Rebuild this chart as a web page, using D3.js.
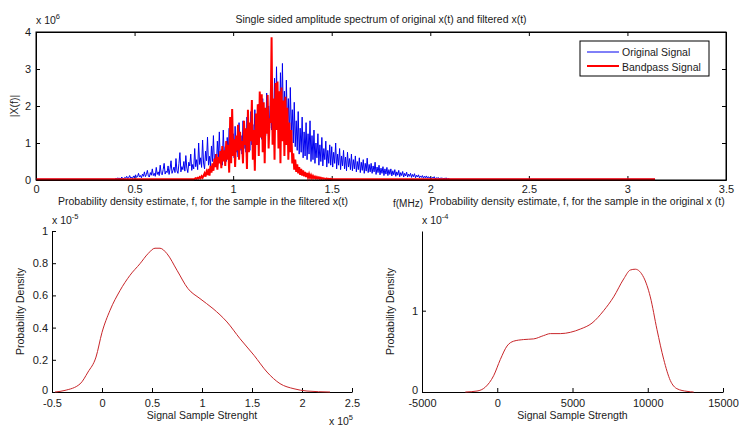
<!DOCTYPE html>
<html>
<head>
<meta charset="utf-8">
<script src="https://cdn.jsdelivr.net/npm/d3@7"></script>
<style>
  body { margin: 0; background: #fff; }
  svg { display: block; }
  text { font-family: "Liberation Sans", Arial, Helvetica, sans-serif; fill: #1a1a1a; }
  .axis path, .axis line { stroke: #000; stroke-width: 1; }
  .axis text { font-size: 11px; fill: #1a1a1a; }
</style>
</head>
<body>
<svg id="chart" width="739" height="427"></svg>
<script>
// ---------- Spectrum (|X(f)| in units of 1e6, f in MHz) ----------
const spectrumEnd = 3.14;          // last frequency bin
const baselineLevel = 0.02;        // floor of both spectra outside the band

// Original signal, one value every 0.005 MHz starting at 0.40 MHz
const originalStart = 0.40, originalStep = 0.005;
const originalValues = [
  0.02,0.04,0.03,0.06,0.02,0.05,0.03,0.08,0.04,0.03,0.07,0.05,0.10,0.04,0.06,0.12,0.05,0.08,0.04,0.11,
  0.06,0.14,0.07,0.09,0.18,0.08,0.12,0.06,0.16,0.10,0.22,0.09,0.15,0.26,0.11,0.08,0.20,0.13,0.30,0.12,
  0.18,0.10,0.34,0.15,0.22,0.12,0.40,0.18,0.14,0.28,0.45,0.16,0.24,0.20,0.38,0.15,0.30,0.52,0.18,0.26,
  0.35,0.20,0.58,0.25,0.18,0.44,0.74,0.22,0.36,0.28,0.50,0.24,0.66,0.32,0.20,0.48,0.38,0.70,0.26,0.42,
  0.30,0.85,0.36,0.55,0.28,1.00,0.42,0.60,0.34,1.08,0.46,0.30,0.78,0.52,1.16,0.40,0.64,0.36,0.92,0.50,
  1.20,0.44,0.70,0.38,1.05,0.58,1.30,0.48,0.82,0.40,1.35,0.62,0.90,0.50,1.15,0.70,1.40,0.55,0.95,0.65,
  1.25,0.60,1.45,0.75,1.00,0.62,1.55,0.80,1.20,0.70,1.60,0.85,1.30,0.75,1.70,0.90,1.40,0.80,1.85,0.95,
  1.50,0.90,1.90,1.05,1.60,1.00,2.05,1.15,1.75,1.10,2.20,1.25,1.85,1.20,2.35,1.30,2.00,1.40,2.55,1.35,
  2.10,1.50,2.75,1.40,3.06,1.60,2.30,1.30,2.90,1.70,3.15,1.50,2.40,1.20,2.70,1.45,2.20,1.10,2.50,1.30,
  1.90,1.00,2.10,0.90,1.60,0.80,1.85,0.70,1.40,0.75,1.70,0.60,1.30,0.65,1.55,0.55,1.25,0.70,1.60,0.50,
  1.20,0.55,1.35,0.45,1.00,0.60,1.25,0.40,0.95,0.50,1.15,0.38,0.85,0.55,1.05,0.35,0.80,0.45,0.95,0.40,
  0.90,0.35,0.75,0.45,1.00,0.30,0.70,0.40,0.85,0.28,0.65,0.38,0.80,0.30,0.62,0.25,0.75,0.35,0.58,0.28,
  0.70,0.25,0.55,0.30,0.65,0.22,0.50,0.28,0.60,0.20,0.48,0.26,0.55,0.18,0.45,0.24,0.59,0.20,0.42,0.22,
  0.45,0.18,0.38,0.22,0.48,0.15,0.35,0.20,0.40,0.14,0.32,0.18,0.36,0.12,0.30,0.16,0.34,0.12,0.28,0.15,
  0.30,0.11,0.25,0.14,0.28,0.10,0.22,0.13,0.26,0.09,0.20,0.12,0.23,0.08,0.18,0.11,0.21,0.08,0.16,0.10,
  0.18,0.07,0.15,0.09,0.17,0.06,0.13,0.08,0.14,0.06,0.11,0.07,0.12,0.05,0.10,0.06,0.11,0.05,0.09,0.05,
  0.08,0.04,0.07,0.05,0.09,0.03,0.06,0.04,0.07,0.03,0.05,0.04,0.06,0.03,0.05,0.03,0.06,0.02,0.04,0.03,
  0.02
];

// Bandpass signal, one value every 0.005 MHz starting at 0.80 MHz
const bandpassStart = 0.80, bandpassStep = 0.005;
const bandpassValues = [
  0.02,0.03,0.05,0.03,0.06,0.04,0.08,0.05,0.10,0.06,0.12,0.18,0.09,0.22,0.14,0.30,0.12,0.38,0.20,0.45,
  0.25,0.58,0.35,0.70,0.28,0.62,0.45,0.78,0.32,0.92,0.50,0.80,0.38,1.05,0.55,0.95,0.20,1.70,0.45,1.92,
  0.65,1.10,0.35,1.20,0.80,1.49,0.55,1.30,0.85,1.05,0.45,1.60,0.95,1.40,0.30,1.90,0.75,1.55,1.05,2.16,
  0.55,1.35,0.25,1.80,0.95,2.05,0.65,2.39,1.15,2.32,0.75,2.10,0.45,1.95,1.25,2.30,0.85,1.60,1.55,3.86,
  0.95,2.20,0.55,2.62,1.35,2.66,0.85,2.40,0.45,2.50,1.05,2.15,0.65,2.25,0.95,1.95,0.55,1.55,0.75,1.35,
  0.45,0.72,0.28,0.55,0.22,0.42,0.18,0.35,0.14,0.30,0.12,0.26,0.10,0.22,0.08,0.19,0.07,0.16,0.06,0.13,
  0.05,0.11,0.05,0.09,0.04,0.08,0.04,0.07,0.03,0.06,0.03,0.05,0.03,0.04,0.02,0.04,0.02,0.03,0.02,0.03,
  0.02
];

const spectrumXTicks = [0, 0.5, 1, 1.5, 2, 2.5, 3, 3.5];
const spectrumYTicks = [0, 1, 2, 3, 4];

// ---------- Density estimate of the filtered signal (x in 1e5, y in 1e-5) ----------
const filteredX = [-0.47,-0.37,-0.22,-0.14,-0.06,0,0.08,0.18,0.28,0.38,0.46,0.53,0.58,0.65,0.75,0.86,0.98,1.11,1.25,1.38,1.52,1.65,1.78,1.92,2.05,2.28];
const filteredY = [0,0.01,0.05,0.124,0.217,0.37,0.507,0.63,0.725,0.797,0.859,0.893,0.893,0.859,0.756,0.642,0.58,0.518,0.435,0.331,0.228,0.124,0.052,0.02,0.006,0];
const filteredXTicks = [-0.5, 0, 0.5, 1, 1.5, 2, 2.5];
const filteredYTicks = [0, 0.2, 0.4, 0.6, 0.8, 1];

// ---------- Density estimate of the original signal (y in 1e-4) ----------
const originalPdfX = [-2120,-1345,-790,-240,205,648,1090,1755,2420,3084,3527,4190,4856,5520,6295,7070,7735,8400,8842,9175,9728,10170,10615,11058,11500,11944,12608,13050];
const originalPdfY = [0,0.012,0.06,0.2,0.40,0.565,0.625,0.645,0.653,0.694,0.718,0.718,0.734,0.774,0.847,1.0,1.17,1.39,1.5,1.51,1.41,1.17,0.766,0.403,0.141,0.04,0.008,0];
const originalPdfXTicks = [-5000, 0, 5000, 10000, 15000];
const originalPdfYTicks = [0, 1];

const svg = d3.select("#chart");

// exponent label such as "x 10^6"
function exponentLabel(g, x, y, exp) {
  const t = g.append("text").attr("x", x).attr("y", y).style("font-size", "10.5px");
  t.append("tspan").text("x 10");
  t.append("tspan").attr("dy", -5).style("font-size", "7.5px").text(exp);
}

// ================= Top: amplitude spectrum =================
(function spectrum() {
  const L = 36, R = 726, T = 32, B = 180;
  const x = d3.scaleLinear().domain([0, 3.5]).range([L, R]);
  const y = d3.scaleLinear().domain([0, 4]).range([B, T]);
  const g = svg.append("g");

  const fmt = d => String(d);
  g.append("g").attr("class", "axis").attr("transform", `translate(0,${B})`)
    .call(d3.axisBottom(x).tickValues(spectrumXTicks).tickFormat(fmt).tickSizeInner(-4).tickSizeOuter(0).tickPadding(5));
  g.append("g").attr("class", "axis").attr("transform", `translate(0,${T})`)
    .call(d3.axisTop(x).tickValues(spectrumXTicks).tickFormat("").tickSizeInner(-4).tickSizeOuter(0));
  g.append("g").attr("class", "axis").attr("transform", `translate(${L},0)`)
    .call(d3.axisLeft(y).tickValues(spectrumYTicks).tickFormat(fmt).tickSizeInner(-4).tickSizeOuter(0).tickPadding(5));
  g.append("g").attr("class", "axis").attr("transform", `translate(${R},0)`)
    .call(d3.axisRight(y).tickValues(spectrumYTicks).tickFormat("").tickSizeInner(-4).tickSizeOuter(0));

  const origPts = [[0, baselineLevel]]
    .concat(originalValues.map((v, i) => [originalStart + i * originalStep, v]))
    .concat([[spectrumEnd, baselineLevel]]);
  const bandPts = [[0, baselineLevel]]
    .concat(bandpassValues.map((v, i) => [bandpassStart + i * bandpassStep, v]))
    .concat([[spectrumEnd, baselineLevel]]);

  const line = d3.line().x(d => x(d[0])).y(d => y(d[1]));
  g.append("path").attr("d", line(origPts)).attr("fill", "none")
    .attr("stroke", "#0000f0").attr("stroke-width", 1);
  g.append("path").attr("d", line(bandPts)).attr("fill", "none")
    .attr("stroke", "#ff0000").attr("stroke-width", 2);

  g.append("rect").attr("x", L).attr("y", T).attr("width", R - L).attr("height", B - T)
    .attr("fill", "none").attr("stroke", "#000");

  g.append("text").attr("x", (L + R) / 2).attr("y", 23).attr("text-anchor", "middle")
    .style("font-size", "10.5px").text("Single sided amplitude spectrum of original x(t) and filtered x(t)");
  exponentLabel(g, 36, 24, "6");
  g.append("text").attr("transform", `translate(18,${(T + B) / 2}) rotate(-90)`)
    .attr("text-anchor", "middle").style("font-size", "10.5px").text("|X(f)|");
  g.append("text").attr("x", 408).attr("y", 207).attr("text-anchor", "middle")
    .style("font-size", "10px").text("f(MHz)");

  // legend
  const lg = g.append("g");
  lg.append("rect").attr("x", 580).attr("y", 41).attr("width", 129).attr("height", 35)
    .attr("fill", "#fff").attr("stroke", "#000");
  lg.append("line").attr("x1", 587).attr("x2", 619).attr("y1", 52).attr("y2", 52)
    .attr("stroke", "#0000f0").attr("stroke-width", 1);
  lg.append("line").attr("x1", 587).attr("x2", 619).attr("y1", 66).attr("y2", 66)
    .attr("stroke", "#ff0000").attr("stroke-width", 2);
  lg.append("text").attr("x", 622).attr("y", 56).style("font-size", "10.5px").text("Original Signal");
  lg.append("text").attr("x", 622).attr("y", 71).style("font-size", "10.5px").text("Bandpass Signal");
})();

// ================= Bottom: density estimates =================
function densityPanel(opts) {
  const { L, R, T, B, xDomain, yDomain, xTicks, yTicks, xs, ys, title, titleX, xLabel, yExp, xExp } = opts;
  const x = d3.scaleLinear().domain(xDomain).range([L, R]);
  const y = d3.scaleLinear().domain(yDomain).range([B, T]);
  const g = svg.append("g");
  const fmt = d => String(d);

  g.append("g").attr("class", "axis").attr("transform", `translate(0,${B})`)
    .call(d3.axisBottom(x).tickValues(xTicks).tickFormat(fmt).tickSizeInner(-4).tickSizeOuter(0).tickPadding(7));
  const yAxis = g.append("g").attr("class", "axis").attr("transform", `translate(${L},0)`)
    .call(d3.axisLeft(y).tickValues(yTicks).tickFormat(fmt).tickSizeInner(-4).tickSizeOuter(0).tickPadding(4));
  // the zero label sits a little above the axis corner
  yAxis.selectAll(".tick text").filter(d => d === 0).attr("dy", "0.1em");

  const pts = xs.map((v, i) => [v, ys[i]]);
  g.append("path")
    .attr("d", d3.line().x(d => x(d[0])).y(d => y(d[1])).curve(d3.curveMonotoneX)(pts))
    .attr("fill", "none").attr("stroke", "#c8262a").attr("stroke-width", 1);

  g.append("text").attr("x", titleX).attr("y", 205).attr("text-anchor", "middle")
    .style("font-size", "10.5px").text(title);
  g.append("text").attr("x", (L + R) / 2).attr("y", 419).attr("text-anchor", "middle")
    .style("font-size", "10.5px").text(xLabel);
  g.append("text").attr("transform", `translate(${L - 28},${(T + B) / 2}) rotate(-90)`)
    .attr("text-anchor", "middle").style("font-size", "10.5px").text("Probability Density");
  exponentLabel(g, L, 224, yExp);
  if (xExp) exponentLabel(g, R - 23, 425, xExp);
}

densityPanel({
  L: 52, R: 352, T: 231, B: 392,
  xDomain: [-0.5, 2.5], yDomain: [0, 1],
  xTicks: filteredXTicks, yTicks: filteredYTicks,
  xs: filteredX, ys: filteredY,
  title: "Probability density estimate, f, for the sample in the filtered x(t)", titleX: 203,
  xLabel: "Signal Sample Strenght", yExp: "-5", xExp: "5"
});

densityPanel({
  L: 422, R: 723, T: 231, B: 392,
  xDomain: [-5000, 15000], yDomain: [0, 1.98],
  xTicks: originalPdfXTicks, yTicks: originalPdfYTicks,
  xs: originalPdfX, ys: originalPdfY,
  title: "Probability density estimate, f, for the sample in the original x (t)", titleX: 577,
  xLabel: "Signal Sample Strength", yExp: "-4", xExp: null
});
</script>
</body>
</html>
